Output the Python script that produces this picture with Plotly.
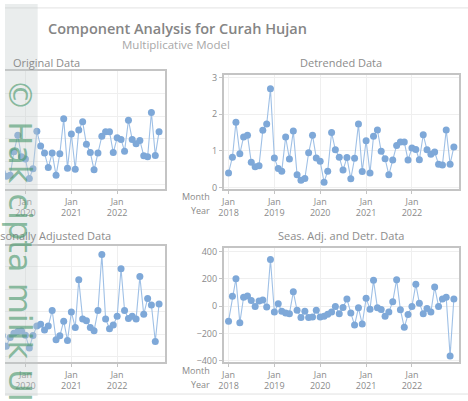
import plotly.graph_objects as go
import pandas as pd

months = pd.date_range("2018-01-01", periods=60, freq="MS")
year_labels = ["2018", "2019", "2020", "2021", "2022"]

original = [97, 203, 441, 231, 349, 366, 179, 149, 159, 418, 467, 734,
            224, 145, 127, 393, 225, 447, 103, 72, 80, 286, 431, 243,
            223, 52, 137, 466, 337, 275, 149, 275, 80, 269, 577, 143,
            443, 134, 477, 549, 352, 280, 129, 275, 423, 463, 463, 280,
            409, 395, 292, 563, 395, 357, 386, 252, 243, 631, 255, 463]

detrended = [0.40, 0.83, 1.78, 0.92, 1.38, 1.43, 0.69, 0.57, 0.60, 1.56, 1.73, 2.69,
             0.81, 0.52, 0.45, 1.38, 0.78, 1.54, 0.35, 0.20, 0.25, 0.95, 1.43, 0.81,
             0.72, 0.15, 0.45, 1.50, 1.03, 0.83, 0.48, 0.82, 0.24, 0.80, 1.73, 0.44,
             1.28, 0.40, 1.40, 1.57, 0.99, 0.79, 0.35, 0.75, 1.15, 1.24, 1.24, 0.75,
             1.08, 1.04, 0.76, 1.44, 1.03, 0.91, 0.97, 0.64, 0.62, 1.57, 0.64, 1.11]

seas_adj = [85, 362, 630, 138, 312, 333, 325, 222, 331, 299, 248, 727,
            196, 259, 181, 235, 201, 406, 187, 92, 170, 208, 223, 228,
            191, 77, 188, 272, 289, 237, 272, 412, 150, 185, 316, 144,
            397, 260, 685, 336, 319, 260, 231, 412, 912, 336, 249, 281,
            359, 784, 412, 339, 359, 336, 714, 377, 519, 461, 135, 470]

seas_adj_detr = [-110, 72, 201, -122, 65, 74, 41, -2, 38, 45, -7, 342,
                 -43, 17, -38, -50, -55, 105, -31, -84, -38, -84, -79, -31,
                 -79, -74, -60, -43, -2, -55, -10, 53, -50, -139, -12, -131,
                 57, -22, 189, -12, -24, -74, -43, 33, 194, -26, -155, -62,
                 -2, 160, 22, -55, -17, -43, 141, -2, 53, 65, -366, 53]

W, H = 468, 401
def px(x): return x / W
def py(y): return 1 - y / H

MARK = "#7ea8d8"
LINE = "#9fc0e6"
GRID = "#efefef"
FRAME = "#c4c4c4"
TXT = "#8a8a8a"
FONT = "Open Sans, Noto Sans, sans-serif"

fig = go.Figure()

panels = [
    (original, "x", "y", [0, px(161.3)], [py(189.4), py(69)], [-41, 991], [0, 200, 400, 600, 800], False,
     ["2019-07-22", "2023-01-14"]),
    (detrended, "x2", "y2", [px(221), px(459.3)], [py(189.4), py(72.5)], [-0.04, 3.07], [0, 1, 2, 3], True,
     ["2017-11-23", "2023-01-14"]),
    (seas_adj, "x3", "y3", [0, px(161.3)], [py(366.2), py(247.2)], [-48, 990], [0, 200, 400, 600, 800], False,
     ["2019-07-22", "2023-01-14"]),
    (seas_adj_detr, "x4", "y4", [px(221), px(459.3)], [py(366.2), py(250)], [-409, 423],
     [-400, -200, 0, 200, 400], True, ["2017-11-23", "2023-01-14"]),
]

jan_ticks = [m for m in months if m.month == 1]
tick_text = ["Jan<br>" + y for y in year_labels]

layout = dict(
    width=W, height=H, autosize=False,
    margin=dict(l=0, r=0, t=0, b=0),
    paper_bgcolor="white", plot_bgcolor="white",
    showlegend=False,
    font=dict(family=FONT, color=TXT, size=9),
)

for data, xa, ya, xd, yd, yr, ytv, ylab, xr in panels:
    fig.add_trace(go.Scatter(
        x=months, y=data, xaxis=xa, yaxis=ya, mode="lines+markers",
        line=dict(color=LINE, width=1.1),
        marker=dict(color=MARK, size=7, line=dict(width=0)),
        cliponaxis=True,
    ))
    xkey = "xaxis" + xa[1:]
    ykey = "yaxis" + ya[1:]
    layout[xkey] = dict(
        domain=xd, anchor=ya, type="date", range=xr,
        tickvals=jan_ticks, ticktext=tick_text,
        showgrid=True, gridcolor=GRID, gridwidth=1,
        showline=True, linecolor=FRAME, linewidth=1.5, mirror=True,
        ticks="outside", ticklen=3, tickcolor=FRAME,
        tickfont=dict(size=9, color=TXT, family=FONT),
        zeroline=False, tickangle=0,
    )
    ydict = dict(
        domain=yd, anchor=xa, range=yr, tickvals=ytv,
        showgrid=True, gridcolor=GRID, gridwidth=1,
        zeroline=False,
        tickfont=dict(size=9, color=TXT, family=FONT),
    )
    if ylab:
        ydict.update(showline=True, linecolor=FRAME, linewidth=1.5, mirror=True,
                     ticks="outside", ticklen=3, tickcolor=FRAME, showticklabels=True)
    else:
        ydict.update(showline=True, linecolor=FRAME, linewidth=1.5, side="right",
                     mirror=False, showticklabels=False, ticks="")
    layout[ykey] = ydict

TITLE_C = "#8c8c8c"
annotations = [
    dict(text="Component Analysis for Curah Hujan", x=px(174), y=py(25), xref="paper", yref="paper",
         showarrow=False, xanchor="center", yanchor="middle",
         font=dict(size=14.5, color="#858585", family=FONT, weight=600)),
    dict(text="Multiplicative Model", x=px(173), y=py(41), xref="paper", yref="paper",
         showarrow=False, xanchor="center", yanchor="middle",
         font=dict(size=11.5, color="#a8a8a8", family=FONT)),
    dict(text="Original Data", x=px(42), y=py(60), xref="paper", yref="paper",
         showarrow=False, xanchor="center", yanchor="middle",
         font=dict(size=11, color=TITLE_C, family=FONT)),
    dict(text="Detrended Data", x=px(340), y=py(60), xref="paper", yref="paper",
         showarrow=False, xanchor="center", yanchor="middle",
         font=dict(size=11, color=TITLE_C, family=FONT)),
    dict(text="Seasonally Adjusted Data", x=px(42), y=py(237), xref="paper", yref="paper",
         showarrow=False, xanchor="center", yanchor="middle",
         font=dict(size=11, color=TITLE_C, family=FONT)),
    dict(text="Seas. Adj. and Detr. Data", x=px(340), y=py(237), xref="paper", yref="paper",
         showarrow=False, xanchor="center", yanchor="middle",
         font=dict(size=11, color=TITLE_C, family=FONT)),
]
for yrow in (197, 375):
    annotations.append(dict(text="Month", x=px(209), y=py(yrow), xref="paper", yref="paper",
                            showarrow=False, xanchor="right", yanchor="middle",
                            font=dict(size=9, color=TXT, family=FONT)))
    annotations.append(dict(text="Year", x=px(209), y=py(yrow + 14), xref="paper", yref="paper",
                            showarrow=False, xanchor="right", yanchor="middle",
                            font=dict(size=9, color=TXT, family=FONT)))

# watermark
annotations.append(dict(text="© Hak cipta milik UIN Suska Riau", x=px(15), y=py(75),
                        xref="paper", yref="paper", showarrow=False, textangle=90,
                        xanchor="center", yanchor="top",
                        font=dict(size=32, color="rgba(70,150,105,0.62)", family="DejaVu Sans")))
layout["annotations"] = annotations

layout["shapes"] = [
    dict(type="line", xref="paper", yref="paper", x0=0, x1=1, y0=py(4), y1=py(4),
         line=dict(color="#e2e2e2", width=1)),
    dict(type="line", xref="paper", yref="paper", x0=0, x1=1, y0=py(399), y1=py(399),
         line=dict(color="#e2e2e2", width=1)),
    dict(type="rect", xref="paper", yref="paper", x0=0, x1=px(33), y0=0, y1=1,
         fillcolor="rgba(195,204,202,0.35)", line=dict(width=0), layer="above"),
]

fig.update_layout(**layout)
fig.write_html("out.html", config={"displayModeBar": False},
               post_script="document.body.style.margin='0';document.body.style.overflow='hidden';")
